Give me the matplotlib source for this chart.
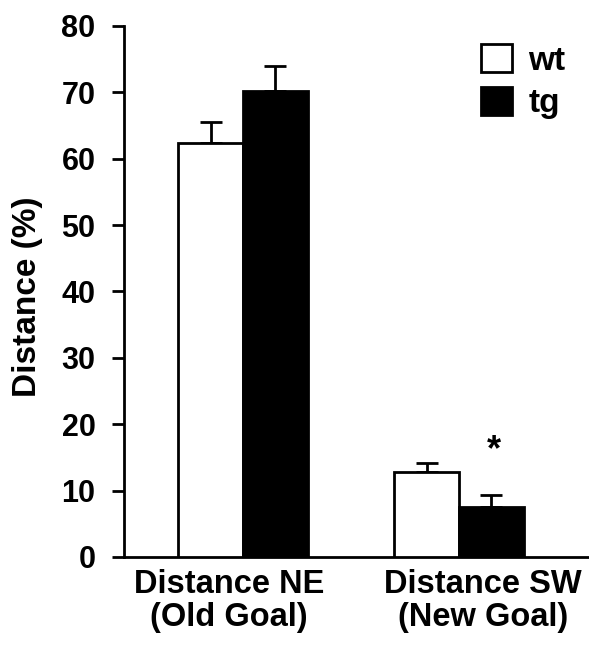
import matplotlib.pyplot as plt
from matplotlib.patches import Patch

# values
groups = ["Distance NE\n(Old Goal)", "Distance SW\n(New Goal)"]
wt_mean = [62.3, 12.8]
wt_err = [3.2, 1.4]
tg_mean = [70.2, 7.5]
tg_err = [3.8, 1.8]
yticks = [0, 10, 20, 30, 40, 50, 60, 70, 80]

plt.rcParams["font.family"] = ["Liberation Sans", "DejaVu Sans"]
plt.rcParams["font.weight"] = "bold"

fig = plt.figure(figsize=(5.89, 6.46), dpi=100)
ax = fig.add_axes([0.2105, 0.1378, 0.7895, 0.822])

x = [0, 1]
w = 0.3
err_kw = dict(capsize=8, capthick=2, elinewidth=2, ecolor="black")
ax.bar([i - w / 2 for i in x], wt_mean, w, color="white", edgecolor="black",
       linewidth=2, zorder=3)
ax.bar([i + w / 2 for i in x], tg_mean, w, color="black", edgecolor="black",
       linewidth=2, zorder=3)
ax.errorbar([i - w / 2 for i in x], wt_mean, yerr=[[0, 0], wt_err], fmt="none",
            zorder=2, **err_kw)
ax.errorbar([i + w / 2 for i in x], tg_mean, yerr=[[0, 0], tg_err], fmt="none",
            zorder=2, **err_kw)

# significance marker
ax.text(1 + w / 2 + 0.01, 16.0, "*", ha="center", va="center",
        fontsize=26, fontweight="bold")

ax.set_xlim(-0.551, 1.602)
ax.set_ylim(0, 80)
ax.set_yticks(yticks)
# group labels sit a bit off the group centres in the original
ax.set_xticks([-0.065, 1.11])
ax.set_xticklabels(groups, fontsize=23.5, fontweight="bold", linespacing=1.08)
ax.tick_params(axis="x", length=0, pad=9)
ax.tick_params(axis="y", length=8.5, width=2, labelsize=22, pad=12)
for lab in ax.get_yticklabels():
    lab.set_fontweight("bold")
ax.set_ylabel("Distance (%)", fontsize=24, fontweight="bold")
ax.yaxis.set_label_coords(-0.174, 0.49)

ax.spines["top"].set_visible(False)
ax.spines["right"].set_visible(False)
ax.spines["left"].set_linewidth(2)
ax.spines["bottom"].set_linewidth(2)

handles = [Patch(facecolor="white", edgecolor="black", linewidth=2, label="wt"),
           Patch(facecolor="black", edgecolor="black", linewidth=2, label="tg")]
ax.legend(handles=handles, loc="upper right", bbox_to_anchor=(1.0, 1.01),
          frameon=False, fontsize=24, handlelength=0.92, handleheight=0.92,
          handletextpad=0.5, labelspacing=0.3, borderaxespad=0.3)

fig.savefig("out.png", dpi=100)
